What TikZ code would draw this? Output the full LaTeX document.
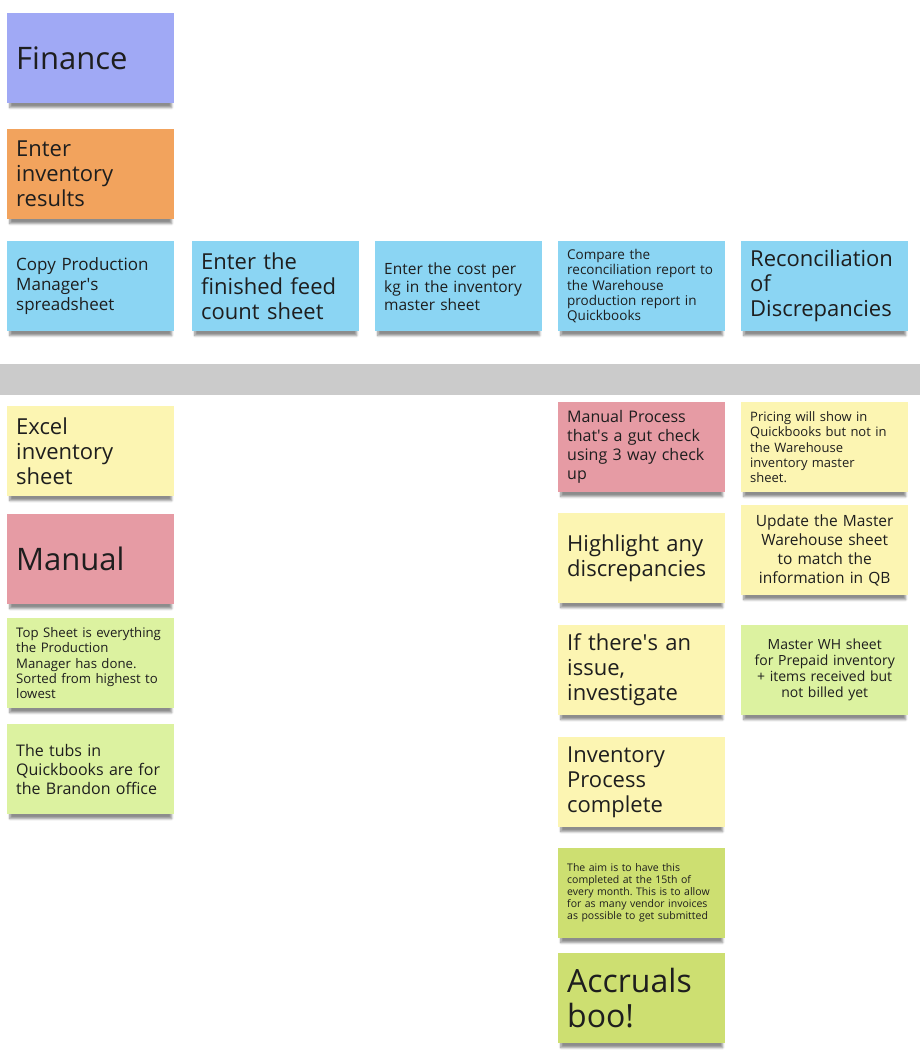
\documentclass[tikz,border=0pt]{standalone}
\usepackage{fontspec}
\setmainfont{Open Sans}
\usetikzlibrary{shadows.blur}
\definecolor{purplenote}{HTML}{A0A9F5}
\definecolor{orangenote}{HTML}{F2A35D}
\definecolor{bluenote}{HTML}{8BD5F3}
\definecolor{yellownote}{HTML}{FCF5B2}
\definecolor{pinknote}{HTML}{E69BA4}
\definecolor{limenote}{HTML}{DCF2A0}
\definecolor{greennote}{HTML}{CDDF71}
\definecolor{bandgray}{HTML}{CBCBCB}
\definecolor{inkgray}{HTML}{1E1E1E}
\newcommand{\qs}{\textquotesingle}
\hyphenpenalty=10000
\exhyphenpenalty=10000
\frenchspacing

\begin{document}
\begin{tikzpicture}[x=1pt,y=-1pt,every node/.style={inner sep=0pt},note/.style={anchor=north west, minimum width=167pt, minimum height=90pt, text width=149pt, inner xsep=9pt, align=left, text=inkgray, blur shadow={shadow xshift=0pt, shadow yshift=-6pt, shadow scale=0.97, shadow blur steps=6, shadow opacity=45}},mid/.style={align=center}]
\useasboundingbox (0,0) rectangle (920,1060);
\node[fill=bandgray, anchor=north west, minimum width=920pt, minimum height=31pt] (band) at (0,364) {};
% top column
\node[note, fill=purplenote, font=\fontsize{31}{35}\selectfont] (fin) at (7,13) {Finance};
\node[note, fill=orangenote, font=\fontsize{22}{25}\selectfont] (enter) at (7,129) {Enter\\inventory\\results};
% step row
\node[note, fill=bluenote, font=\fontsize{17}{20}\selectfont] (copy) at (7,241) {Copy Production\\Manager\qs s\\spreadsheet};
\node[note, fill=bluenote, font=\fontsize{22}{25}\selectfont] (finished) at (192,241) {Enter the\\finished feed\\count sheet};
\node[note, fill=bluenote, font=\fontsize{15.5}{18}\selectfont] (cost) at (375,241) {Enter the cost per\\kg in the inventory\\master sheet};
\node[note, fill=bluenote, font=\fontsize{13.5}{15.3}\selectfont] (compare) at (558,241) {Compare the\\reconciliation report to\\the Warehouse\\production report in\\Quickbooks};
\node[note, fill=bluenote, font=\fontsize{22}{25}\selectfont] (recon) at (741,241) {Reconciliation\\of\\Discrepancies};
% below the band, first column
\node[note, fill=yellownote, font=\fontsize{22}{25}\selectfont] (excel) at (7,406) {Excel\\inventory\\sheet};
\node[note, fill=pinknote, font=\fontsize{31}{35}\selectfont] (manual) at (7,514) {Manual};
\node[note, fill=limenote, font=\fontsize{13.2}{15.3}\selectfont] (topsheet) at (7,618) {Top Sheet is everything\\the Production\\Manager has done.\\Sorted from highest to\\lowest};
\node[note, fill=limenote, font=\fontsize{16}{19}\selectfont] (tubs) at (7,724) {The tubs in\\Quickbooks are for\\the Brandon office};
% fourth column
\node[note, fill=pinknote, font=\fontsize{16}{19}\selectfont] (gutcheck) at (558,402) {Manual Process\\that\qs s a gut check\\using 3 way check\\up};
\node[note, fill=yellownote, font=\fontsize{22}{25}\selectfont] (highlight) at (558,513) {Highlight any\\discrepancies};
\node[note, fill=yellownote, font=\fontsize{22}{25}\selectfont] (issue) at (558,625) {If there\qs s an\\issue,\\investigate};
\node[note, fill=yellownote, font=\fontsize{22}{25}\selectfont] (complete) at (558,737) {Inventory\\Process\\complete};
\node[note, fill=greennote, font=\fontsize{10.5}{12}\selectfont] (aim) at (558,848) {The aim is to have this\\completed at the 15th of\\every month. This is to allow\\for as many vendor invoices\\as possible to get submitted};
\node[note, fill=greennote, font=\fontsize{32}{35}\selectfont] (accruals) at (558,953) {Accruals\\boo!};
% fifth column
\node[note, fill=yellownote, font=\fontsize{13}{15.3}\selectfont] (pricing) at (741,402) {Pricing will show in\\Quickbooks but not in\\the Warehouse\\inventory master\\sheet.};
\node[note, mid, fill=yellownote, font=\fontsize{15.5}{19}\selectfont] (update) at (741,505) {Update the Master\\Warehouse sheet\\to match the\\information in QB};
\node[note, mid, fill=limenote, font=\fontsize{14}{16}\selectfont] (masterwh) at (741,625) {Master WH sheet\\for Prepaid inventory\\+ items received but\\not billed yet};
\end{tikzpicture}
\end{document}
